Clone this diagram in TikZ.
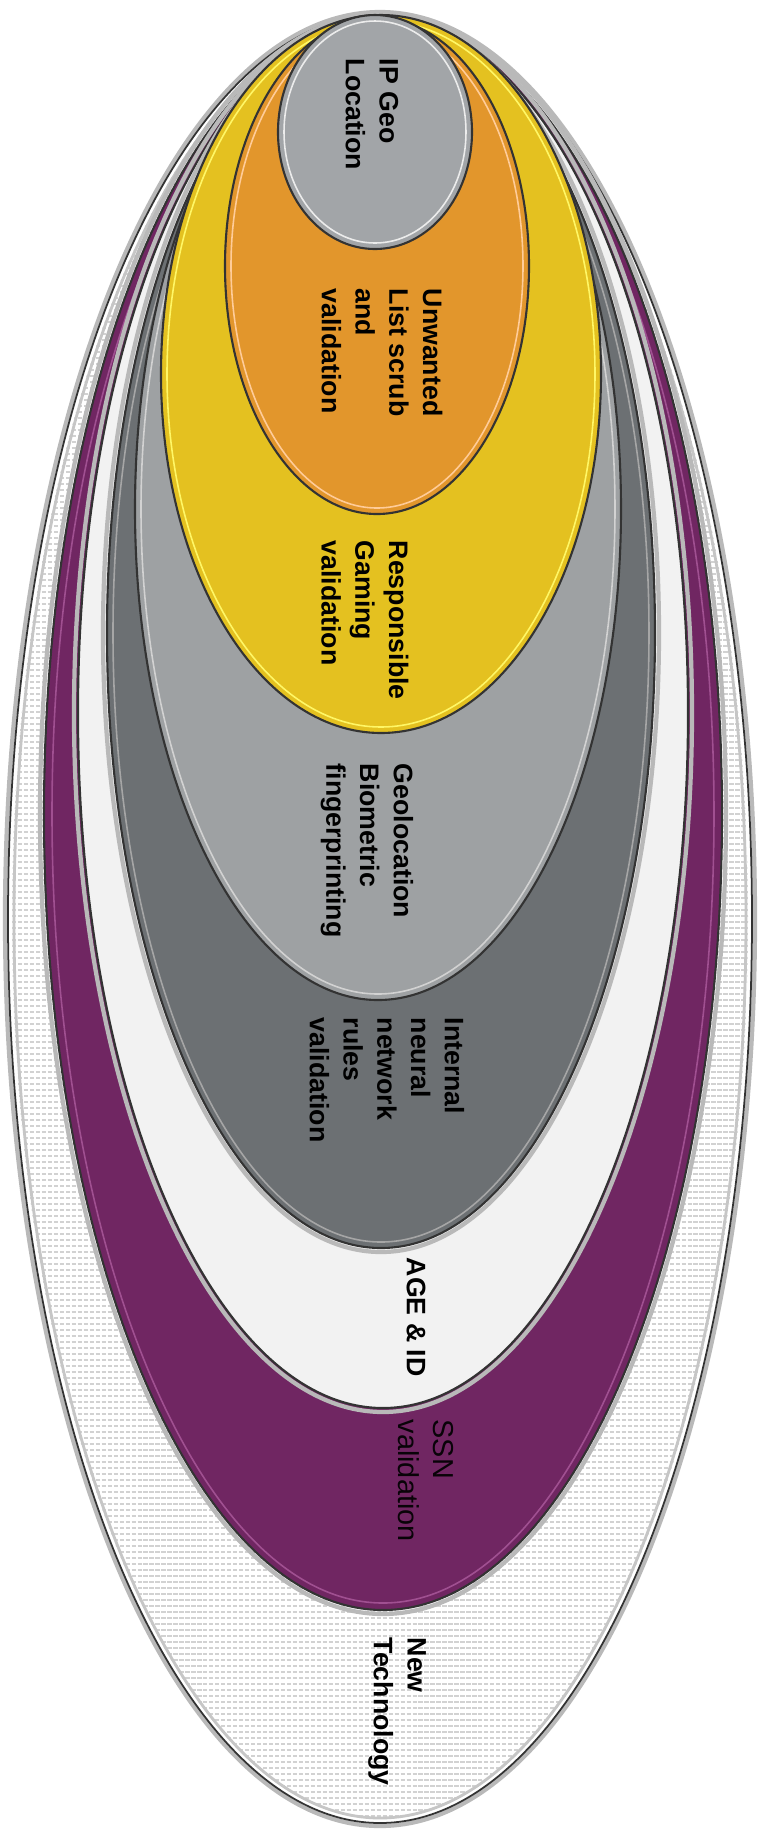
\documentclass[tikz,border=0pt]{standalone}
\usepackage{fontspec}
\setmainfont{Liberation Sans}
\definecolor{plum}{RGB}{112,38,98}
\definecolor{plumlight}{RGB}{160,80,145}
\definecolor{steel}{RGB}{108,112,115}
\definecolor{silver}{RGB}{158,161,163}
\definecolor{gold}{RGB}{228,193,32}
\definecolor{amber}{RGB}{226,150,44}
\definecolor{pebble}{RGB}{162,165,168}

\begin{document}
\begin{tikzpicture}[x=0.01cm, y=-0.01cm,
  every node/.style={font=\fontsize{7.6}{9.6}\selectfont\bfseries, inner sep=0pt,
    rotate=-90, anchor=west, align=left},
  rim/.style={draw=black!80, line width=0.6pt},
  halo/.style={draw=gray!55, line width=1.2pt},
  gloss/.style={line width=0.45pt}]
  \useasboundingbox (0,0) rectangle (759,1832);
  % New Technology
  \draw[halo] (380,919) ellipse [x radius=375, y radius=907];
  \fill[white] (380,919) ellipse [x radius=372, y radius=904];
  \begin{scope}
    \clip (380,919) ellipse [x radius=368, y radius=900];
    \foreach \y in {22,28,...,1830}
      \draw[gray!35, line width=0.3pt, dash pattern=on 1.2pt off 0.5pt] (0,\y) -- (759,\y);
  \end{scope}
  \draw[black!80, line width=0.5pt] (380,919) ellipse [x radius=372, y radius=904];
  \draw[gray!45, line width=0.8pt] (380,919) ellipse [x radius=366, y radius=899];
  % SSN validation
  \draw[halo] (383,814) ellipse [x radius=343, y radius=800];
  \draw[rim, fill=plum] (383,814) ellipse [x radius=339, y radius=796];
  \draw[gloss, plumlight] (383,814) ellipse [x radius=331, y radius=789];
  % AGE & ID
  \draw[halo] (383,713) ellipse [x radius=309, y radius=699];
  \draw[rim, fill=gray!10] (383,713) ellipse [x radius=305, y radius=695];
  % Internal neural network rules validation
  \draw[halo] (381,633) ellipse [x radius=278, y radius=619];
  \draw[rim, fill=steel] (381,633) ellipse [x radius=274, y radius=615];
  \draw[gloss, gray!70] (381,633) ellipse [x radius=268, y radius=609];
  % Geolocation Biometric fingerprinting
  \draw[rim, fill=silver] (378,509) ellipse [x radius=243, y radius=491];
  \draw[gloss, gray!35] (378,509) ellipse [x radius=237, y radius=485];
  % Responsible Gaming validation
  \draw[rim, fill=gold] (381,374) ellipse [x radius=220, y radius=359];
  \draw[gloss, yellow!60!white] (381,374) ellipse [x radius=214, y radius=353];
  % Unwanted List scrub and validation
  \draw[rim, fill=amber] (377,266) ellipse [x radius=152, y radius=248];
  \draw[gloss, orange!40!white] (377,266) ellipse [x radius=146, y radius=242];
  % IP Geo Location
  \draw[rim, fill=pebble] (375,132) ellipse [x radius=97, y radius=117];
  \draw[gloss, white!85!gray] (375,132) ellipse [x radius=91, y radius=111];
  % Labels
  \node (ipgeo) at (372,58) {IP Geo\\Location};
  \node (unwanted) at (382,288) {Unwanted\\List scrub\\and\\validation};
  \node (gaming) at (365,540) {Responsible\\Gaming\\validation};
  \node (biometric) at (367,763) {Geolocation\\Biometric\\fingerprinting};
  \node (neural) at (387,1017) {Internal\\neural\\network\\rules\\validation};
  \node (ageid) at (416,1257) {AGE \& ID};
  \node[font=\fontsize{8.2}{9.8}\selectfont, text=black!92!plum] (ssn) at (426,1419) {SSN\\validation};
  \node (newtech) at (397,1637) {New\\Technology};
\end{tikzpicture}
\end{document}
